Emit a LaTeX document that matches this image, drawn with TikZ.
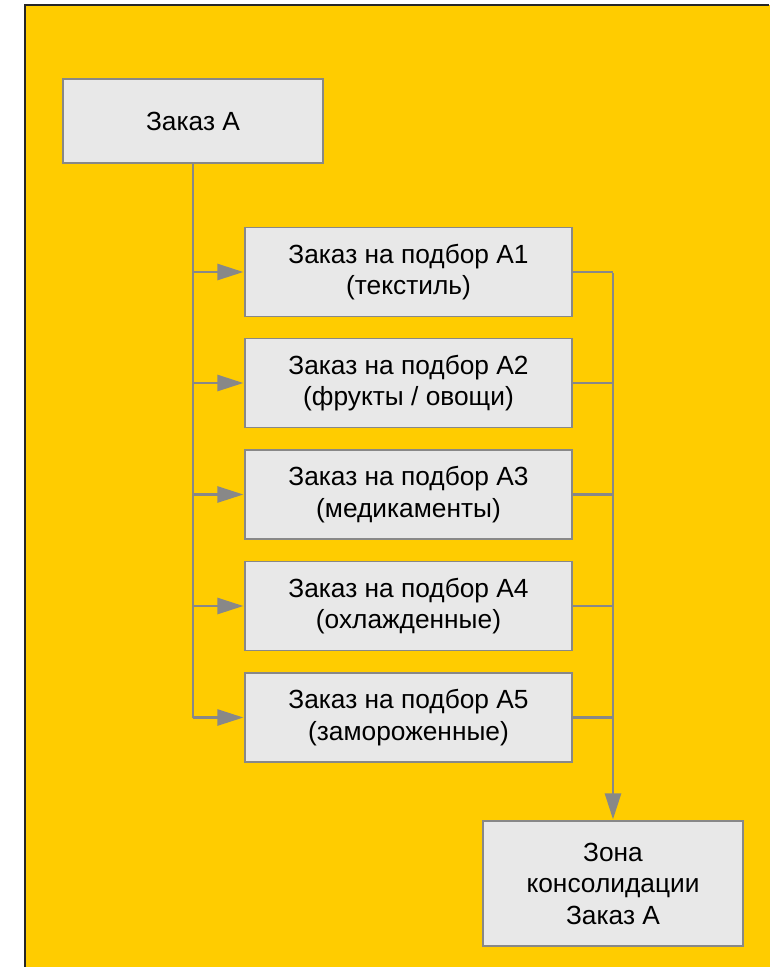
\documentclass[tikz,border=0pt]{standalone}
\usepackage{fontspec}
\setmainfont{Liberation Sans}
\usetikzlibrary{arrows.meta}
\definecolor{frameyellow}{HTML}{FFCC00}
\definecolor{boxgray}{HTML}{E8E8E8}
\definecolor{linegray}{HTML}{888888}
\tikzset{
	orderbox/.style={draw=linegray, line width=1.6pt, fill=boxgray, align=center,
		inner sep=0pt, font=\fontsize{26.3}{31.5}\selectfont},
	flowline/.style={draw=linegray, line width=2.6pt},
	flowarrow/.style={flowline, -{Triangle[length=26pt,width=16pt]}, shorten >=0.8pt}
}

\begin{document}
\begin{tikzpicture}[x=1pt, y=-1pt]
		%%%%% START %%%%%
		
		\useasboundingbox (0, 0) rectangle (769, 967);
		\fill[frameyellow] (25, 5) rectangle (780, 980);
		\draw[line width=2pt, color=black!85] (25, 967) -- (25, 5) -- (769, 5);
		
		\node[orderbox, minimum width=260pt, minimum height=84pt] (zakaz) at (193, 121) {Заказ А};
		
		\node[orderbox, minimum width=327pt, minimum height=89pt] (pick1) at (408.5, 272) {Заказ на подбор А1\\(текстиль)};
		\node[orderbox, minimum width=327pt, minimum height=89pt] (pick2) at (408.5, 383) {Заказ на подбор А2\\(фрукты / овощи)};
		\node[orderbox, minimum width=327pt, minimum height=89pt] (pick3) at (408.5, 494.5) {Заказ на подбор А3\\(медикаменты)};
		\node[orderbox, minimum width=327pt, minimum height=89pt] (pick4) at (408.5, 606) {Заказ на подбор А4\\(охлажденные)};
		\node[orderbox, minimum width=327pt, minimum height=89pt] (pick5) at (408.5, 717.5) {Заказ на подбор А5\\(замороженные)};
		
		\node[orderbox, minimum width=260pt, minimum height=125pt] (zona) at (613, 883.5) {Зона\\консолидации\\Заказ А};
		
		\draw[flowline] (zakaz.south) -- (zakaz.south |- pick5.west);
		\draw[flowarrow] (zakaz.south |- pick1.west) -- (pick1.west);
		\draw[flowarrow] (zakaz.south |- pick2.west) -- (pick2.west);
		\draw[flowarrow] (zakaz.south |- pick3.west) -- (pick3.west);
		\draw[flowarrow] (zakaz.south |- pick4.west) -- (pick4.west);
		\draw[flowarrow] (zakaz.south |- pick5.west) -- (pick5.west);
		
		\draw[flowline] (pick1.east) -- (pick1.east -| zona.north);
		\draw[flowline] (pick2.east) -- (pick2.east -| zona.north);
		\draw[flowline] (pick3.east) -- (pick3.east -| zona.north);
		\draw[flowline] (pick4.east) -- (pick4.east -| zona.north);
		\draw[flowline] (pick5.east) -- (pick5.east -| zona.north);
		\draw[flowarrow] ([yshift=-1.3pt]pick1.east -| zona.north) -- (zona.north);
		
		%%%%% END %%%%%
	\end{tikzpicture}
\end{document}
